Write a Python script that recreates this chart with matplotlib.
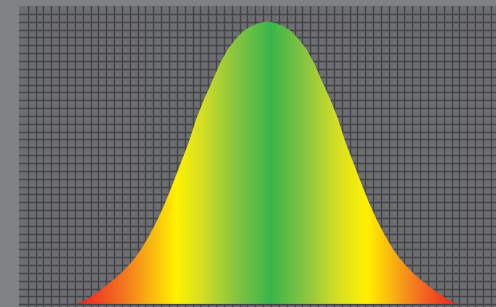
import numpy as np
import matplotlib
matplotlib.use('Agg')
import matplotlib.pyplot as plt
from matplotlib.colors import LinearSegmentedColormap

# bell curve (x and height in grid cells)
xs = [6.1, 7.5, 8.5, 9.5, 10.5, 11.5, 12.5, 13.5, 14.5, 15.5, 16.5, 17.5, 18.5,
      19.5, 20.5, 21.5, 22.5, 23.5, 24.5, 25.5, 26.5, 27.5, 28.5, 29.5, 30.5,
      31.5, 32.5, 33.5, 34.5, 35.5, 36.5, 37.5, 38.5, 39.5, 40.5, 41.5, 42.5,
      43.5, 44.5, 45.5, 46.5, 47.5, 48.5, 49.5, 50.5, 51.5, 52.5, 53.5, 54.8]
heights = [0.0, 0.6, 1.3, 2.0, 2.8, 3.6, 4.6, 5.7, 7.1, 8.8, 10.7, 12.9, 15.4,
           18.0, 20.6, 23.7, 26.2, 28.4, 30.7, 32.5, 33.8, 34.85, 35.45, 35.85, 36.05,
           35.85, 35.45, 34.85, 33.8, 32.5, 30.7, 28.4, 26.2, 23.7, 20.6, 18.0, 15.4,
           12.9, 10.7, 8.8, 7.1, 5.7, 4.6, 3.6, 2.8, 2.0, 1.3, 0.6, 0.0]

# colour stops across the x range
stop_x = [6.0, 12.4, 18.8, 22.0, 26.0, 30.9, 35.5, 39.5, 43.2, 49.3, 54.8]
stop_colors = ['#ed1c24', '#f47b20', '#fff200', '#d7df23', '#8dc63f', '#39b54a',
               '#8dc63f', '#d7df23', '#fff200', '#f47b20', '#ed1c24']

fig = plt.figure(figsize=(4.96, 3.07), dpi=100)
fig.patch.set_facecolor('#808185')
ax = fig.add_axes([19 / 496, 0, 1 - 19 / 496, 301 / 307])
ax.set_facecolor('#6d6e71')

ax.set_xlim(-1.11, 59.66)
ax.set_ylim(-0.34, 38.0)
ax.set_xticks(np.arange(0, 60))
ax.set_yticks(np.arange(0, 38))
ax.grid(True, color='#444446', linewidth=1.0, zorder=0)
ax.tick_params(left=False, bottom=False, labelleft=False, labelbottom=False)
for s in ax.spines.values():
    s.set_visible(False)
ax.set_axisbelow(True)

poly = ax.fill_between(xs, 0, heights, facecolor='none', edgecolor='none')

lo, hi = stop_x[0], stop_x[-1]
cmap = LinearSegmentedColormap.from_list(
    'bell', [((p - lo) / (hi - lo), c) for p, c in zip(stop_x, stop_colors)])
grad = np.linspace(0, 1, 600).reshape(1, -1)
img = ax.imshow(grad, cmap=cmap, aspect='auto', extent=[lo, hi, 0, max(heights)],
                zorder=2, interpolation='bilinear')
img.set_clip_path(poly.get_paths()[0], transform=ax.transData)

ax.axhline(0, color='#444446', linewidth=1.0, alpha=0.5, zorder=3)

fig.savefig('out.png', dpi=100, facecolor=fig.get_facecolor())
